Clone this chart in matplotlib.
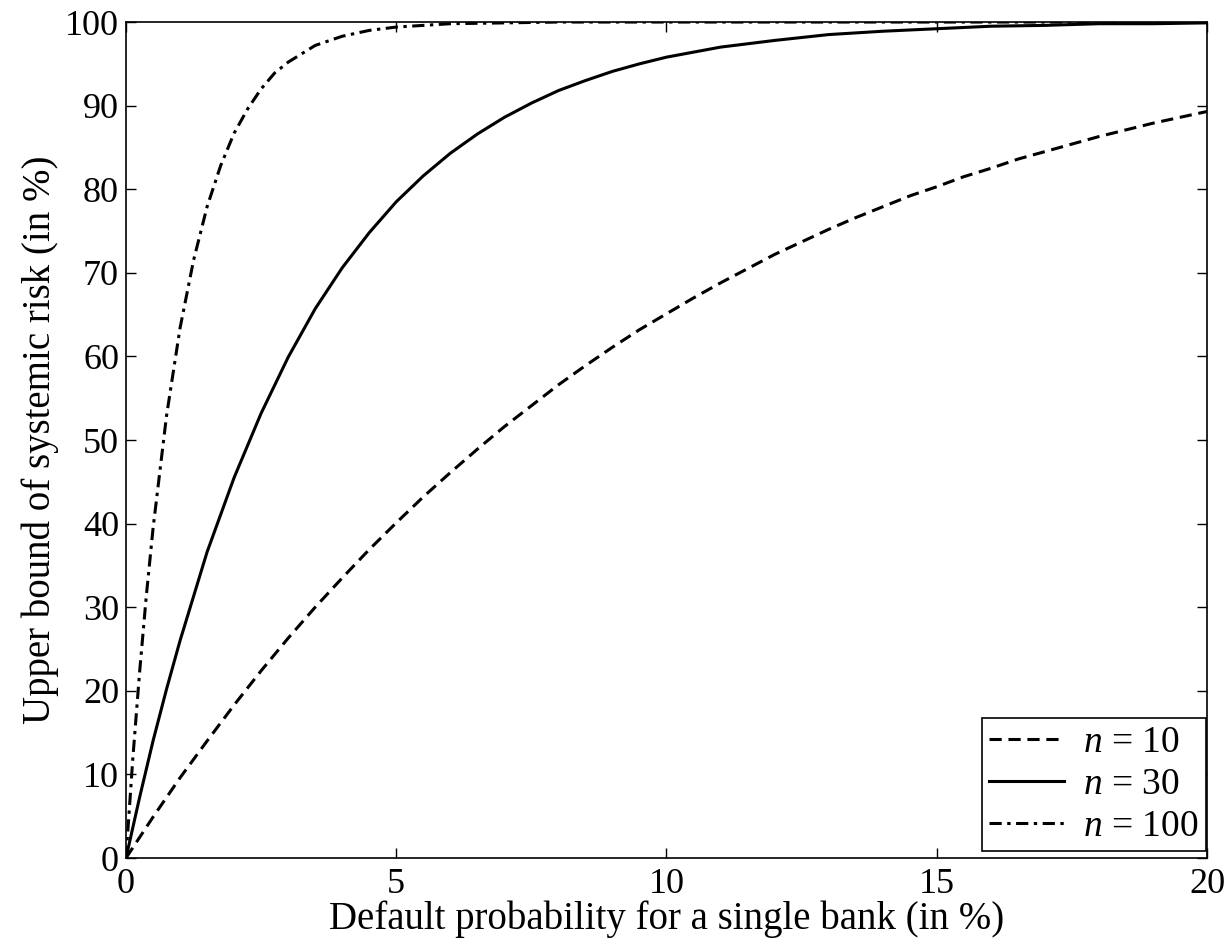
import matplotlib
matplotlib.use('Agg')
import matplotlib.pyplot as plt

plt.rcParams['font.family'] = 'Liberation Serif'
plt.rcParams['mathtext.fontset'] = 'custom'
plt.rcParams['mathtext.rm'] = 'Liberation Serif'
plt.rcParams['mathtext.it'] = 'Liberation Serif:italic'

# default probability (in %) and upper bound of systemic risk (in %)
p_n10 = [0, 0.5, 1, 1.5, 2, 2.5, 3, 3.5, 4, 4.5, 5, 5.5, 6, 6.5, 7, 7.5, 8, 8.5, 9, 9.5,
         10, 10.5, 11, 11.5, 12, 12.5, 13, 13.5, 14, 14.5, 15, 15.5, 16, 16.5, 17, 17.5,
         18, 18.5, 19, 19.5, 20]
risk_n10 = [0, 4.9, 9.6, 14.0, 18.3, 22.4, 26.3, 30.0, 33.5, 36.9, 40.1, 43.2, 46.1, 48.9,
            51.6, 54.1, 56.6, 58.9, 61.1, 63.2, 65.1, 67.0, 68.8, 70.5, 72.2, 73.7, 75.2,
            76.6, 77.9, 79.2, 80.3, 81.5, 82.5, 83.6, 84.5, 85.4, 86.3, 87.1, 87.9, 88.6, 89.3]

p_n30 = [0, 0.25, 0.5, 0.75, 1, 1.5, 2, 2.5, 3, 3.5, 4, 4.5, 5, 5.5, 6, 6.5, 7, 7.5, 8,
         8.5, 9, 9.5, 10, 11, 12, 13, 14, 15, 16, 17, 18, 19, 20]
risk_n30 = [0, 7.2, 14.0, 20.2, 26.0, 36.6, 45.5, 53.2, 59.9, 65.7, 70.6, 74.8, 78.5, 81.6,
            84.3, 86.6, 88.6, 90.3, 91.8, 93.0, 94.1, 95.0, 95.8, 97.0, 97.8, 98.5, 98.9,
            99.2, 99.5, 99.6, 99.8, 99.8, 99.9]

p_n100 = [0, 0.125, 0.25, 0.375, 0.5, 0.75, 1, 1.25, 1.5, 1.75, 2, 2.25, 2.5, 2.75, 3,
          3.5, 4, 4.5, 5, 6, 7, 8, 20]
risk_n100 = [0, 11.8, 22.1, 31.3, 39.4, 52.9, 63.4, 71.5, 77.9, 82.8, 86.7, 89.6, 92.0,
             93.9, 95.2, 97.2, 98.3, 99.0, 99.4, 99.8, 99.9, 100, 100]

labels = [r'$n$ = 10', r'$n$ = 30', r'$n$ = 100']

fig = plt.figure(figsize=(12.28, 9.46), dpi=100)
ax = fig.add_axes([0.1026, 0.093, 0.8803, 0.8837])

ax.plot(p_n10, risk_n10, color='black', lw=2.2, ls=(0, (4, 2.2)), label=labels[0])
ax.plot(p_n30, risk_n30, color='black', lw=2.2, ls='-', label=labels[1])
ax.plot(p_n100, risk_n100, color='black', lw=2.2, ls=(0, (4, 1.8, 1.1, 1.8)), label=labels[2])

ax.set_xlim(0, 20)
ax.set_ylim(0, 100)
ax.set_xticks([0, 5, 10, 15, 20])
ax.set_yticks(range(0, 101, 10))
ax.tick_params(direction='in', length=7, width=1, top=True, right=True, labelsize=26)
ax.tick_params(axis='x', pad=7)
ax.tick_params(axis='y', pad=5)
for s in ax.spines.values():
    s.set_linewidth(1.2)

ax.set_xlabel('Default probability for a single bank (in %)', fontsize=28, labelpad=0)
ax.set_ylabel('Upper bound of systemic risk (in %)', fontsize=28, labelpad=4)

leg = ax.legend(loc='lower right', bbox_to_anchor=(0.999, 0.008), fontsize=27,
                fancybox=False, edgecolor='black', framealpha=1, handlelength=2.0,
                borderpad=0.2, labelspacing=0.2, handletextpad=0.5,
                borderaxespad=0)
leg.get_frame().set_linewidth(1.2)

fig.savefig('out.png', dpi=100)
